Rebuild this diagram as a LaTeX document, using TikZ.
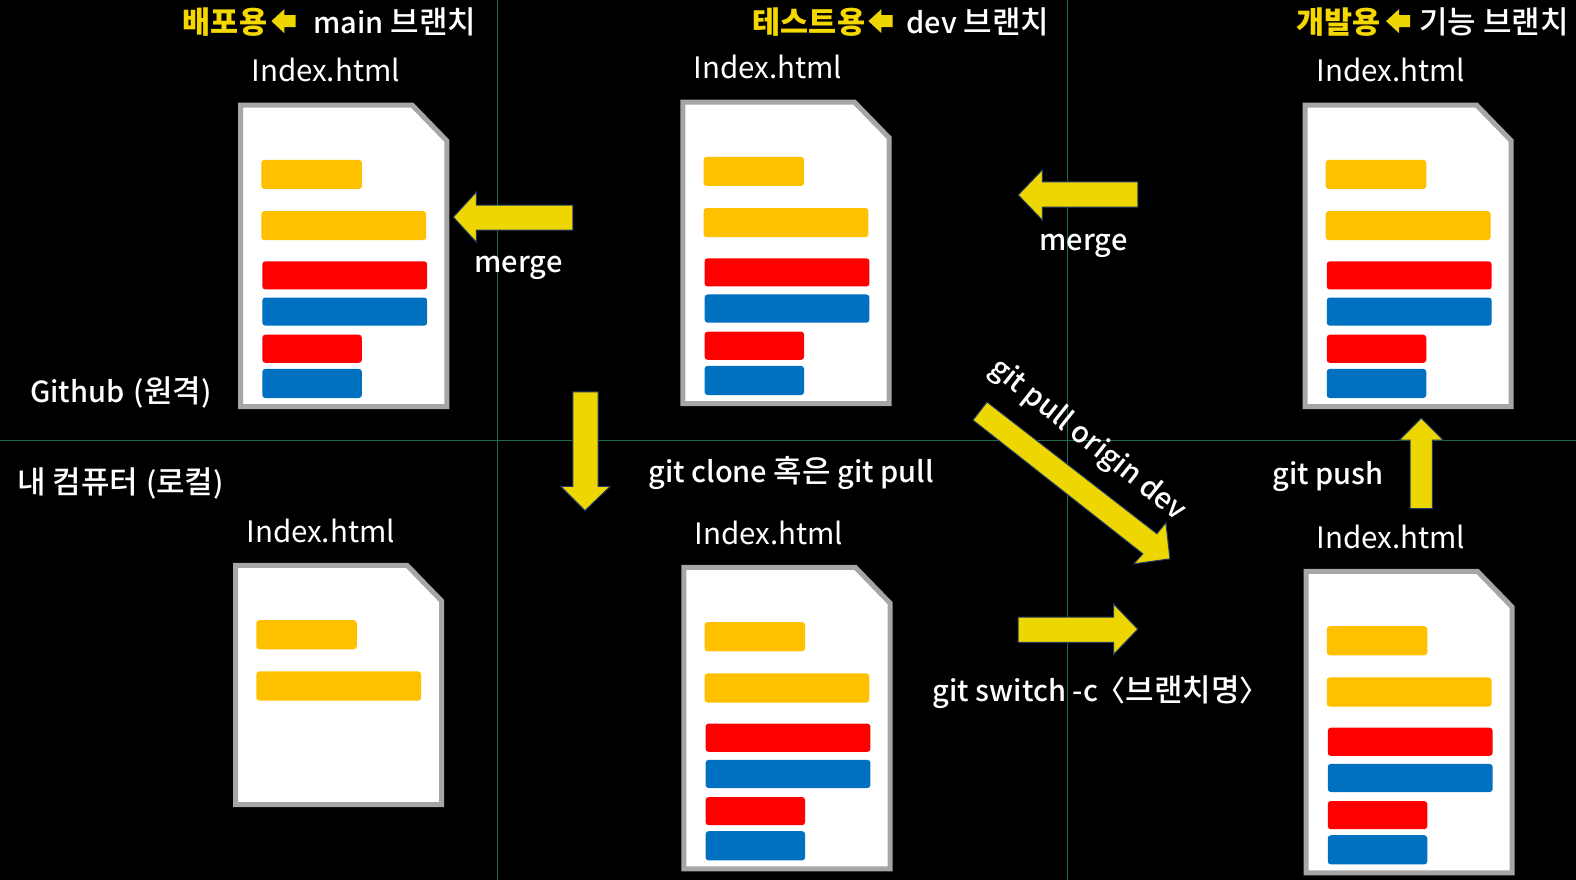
\documentclass[tikz,border=0pt]{standalone}
\usepackage{fontspec}
\setmainfont{Noto Sans CJK KR}
\newfontfamily\labfont{Noto Sans CJK KR Medium}
\newcommand{\kw}[1]{{\fontsize{31}{32}\selectfont #1}}
\usetikzlibrary{calc}
\definecolor{arrowfill}{HTML}{EED600}
\definecolor{arrowedge}{HTML}{1F3864}
\definecolor{gridline}{HTML}{1E6B4A}
\definecolor{docedge}{HTML}{A6A6A6}
\definecolor{barorange}{HTML}{FFC000}
\definecolor{barred}{HTML}{FF0000}
\definecolor{barblue}{HTML}{0070C0}
\definecolor{titleyellow}{HTML}{F5D800}
\tikzset{
  x=1.00510pt,y=-1.00510pt,
  gridl/.style={draw=gridline,line width=1pt},
  blockarrow/.style={fill=arrowfill,draw=arrowedge,line width=1pt,line join=miter},
  smallarrow/.style={fill=arrowfill,draw=none},
  docshape/.style={fill=white,draw=docedge,line width=5pt,line join=miter},
  bar/.style={rounded corners=3pt,draw=none},
  lab/.style={text=white,font=\labfont\fontsize{29}{32}\selectfont,inner sep=0pt,outer sep=0pt},
  fname/.style={text=white,font=\fontsize{29.5}{32}\selectfont,inner sep=0pt,outer sep=0pt},
  ttl/.style={text=titleyellow,font=\fontsize{30.5}{32}\selectfont\bfseries,inner sep=0pt,outer sep=0pt},
}
% #1 left, #2 top, #3 height of the page
\newcommand{\docpage}[3]{%
  \draw[docshape] (#1+2.5,#2+2.5) -- (#1+173,#2+2.5) -- (#1+207.5,#2+38) -- (#1+207.5,#2+#3-1.5) -- (#1+2.5,#2+#3-1.5) -- cycle;
  \fill[barorange,bar] (#1+23,#2+57) rectangle (#1+123,#2+86);
  \fill[barorange,bar] (#1+23,#2+108) rectangle (#1+187,#2+137);
}
\newcommand{\docbars}[2]{%
  \fill[barred,bar] (#1+24,#2+158) rectangle (#1+188,#2+186);
  \fill[barblue,bar] (#1+24,#2+194) rectangle (#1+188,#2+222);
  \fill[barred,bar] (#1+24,#2+231) rectangle (#1+123,#2+259);
  \fill[barblue,bar] (#1+24,#2+265) rectangle (#1+123,#2+294);
}
\newcommand{\minihead}[2]{%
  \fill[smallarrow] (#1,#2) -- (#1+13,#2-12) -- (#1+13,#2-6) -- (#1+24,#2-6) -- (#1+24,#2+6) -- (#1+13,#2+6) -- (#1+13,#2+12) -- cycle;
}
\begin{document}
\begin{tikzpicture}
\useasboundingbox (0,0) rectangle (1568,875.5);
\fill[black] (0,0) rectangle (1568,875.5);
\draw[gridl] (495,0) -- (495,875.5);
\draw[gridl] (1062,0) -- (1062,875.5);
\draw[gridl] (0,438) -- (1568,438);

\docpage{237}{102}{304}\docbars{237}{102}
\docpage{677}{99}{304}\docbars{677}{99}
\docpage{1296}{102}{304}\docbars{1296}{102}
\docpage{232}{560}{242}
\docpage{678}{562}{304}\docbars{678}{562}
\docpage{1297}{566}{304}\docbars{1297}{566}

% block arrows
\draw[blockarrow] (451,216) -- (474,191) -- (474,204) -- (570,204) -- (570,229) -- (474,229) -- (474,241) -- cycle;
\draw[blockarrow] (1013,194) -- (1037,169) -- (1037,181) -- (1132,181) -- (1132,206) -- (1037,206) -- (1037,219) -- cycle;
\draw[blockarrow] (582,508) -- (558,484) -- (570,484) -- (570,390) -- (595,390) -- (595,484) -- (607,484) -- cycle;
\draw[blockarrow] (1414,416) -- (1392,438) -- (1403,438) -- (1403,506) -- (1425,506) -- (1425,438) -- (1436,438) -- cycle;
\draw[blockarrow] (1132,626) -- (1108,601) -- (1108,614) -- (1013,614) -- (1013,639) -- (1108,639) -- (1108,651) -- cycle;
\draw[blockarrow] (982,400) -- (968,418) -- (1137,551) -- (1128,561) -- (1164,556) -- (1160,520) -- (1151,531) -- cycle;
\minihead{270}{21}
\minihead{864}{21}
\minihead{1379}{21}

% titles
\node[ttl,anchor=west] (t1a) at (182,22) {배포용};
\node[lab,anchor=west] (t1b) at (312,22) {main \kw{브랜치}};
\node[ttl,anchor=west] (t2a) at (749,22) {테스트용};
\node[lab,anchor=west] (t2b) at (902,22) {dev \kw{브랜치}};
\node[ttl,anchor=west] (t3a) at (1290,22) {개발용};
\node[lab,anchor=west] (t3b) at (1412,22) {\kw{기능 브랜치}};

% file names
\node[fname] (f1) at (324,70) {Index.html};
\node[fname] (f2) at (764,67) {Index.html};
\node[fname] (f3) at (1384,70) {Index.html};
\node[fname] (f4) at (319,528) {Index.html};
\node[fname] (f5) at (765,530) {Index.html};
\node[fname] (f6) at (1384,534) {Index.html};

% labels
\node[lab] (m1) at (516,266.5) {merge};
\node[lab] (m2) at (1078,244.5) {merge};
\node[lab,anchor=west] (g1) at (30,391) {Github\hspace{0.1em} (\kw{원격})};
\node[lab,anchor=west] (g2) at (17,481) {\kw{내 컴퓨터}\hspace{0.05em} (\kw{로컬})};
\node[lab,anchor=west] (g3) at (645,471) {git clone \kw{혹은} git pull};
\node[lab,anchor=west] (g4) at (928,689) {git switch -c\hspace{-0.05em}〈\kw{브랜치명}〉};
\node[lab,anchor=west] (g5) at (1266,474) {git push};
\node[lab,rotate=-38.5] (g6) at (1082,438) {git pull origin dev};
\end{tikzpicture}
\end{document}
